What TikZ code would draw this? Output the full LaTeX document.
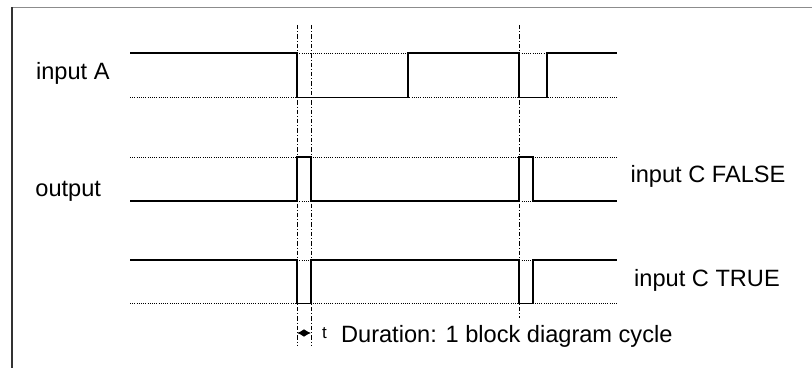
\documentclass[tikz,border=0pt]{standalone}
\usepackage{fontspec}
\setmainfont{Liberation Sans}
\usetikzlibrary{arrows.meta}

\begin{document}
\begin{tikzpicture}[x=0.5pt, y=-0.5pt, font=\fontsize{11.8}{14}\selectfont,
      lbl/.style={inner sep=0pt, anchor=base west},
      note/.style={inner sep=0pt, anchor=base},
      level/.style={line width=0.45pt, dash pattern=on 0.5pt off 0.6pt},
      wave/.style={line width=0.8pt},
      tick/.style={line width=0.5pt, dash pattern=on 2.2pt off 1pt on 0.5pt off 1pt},
      frame/.style={draw=black!45, line width=0.6pt}]

  \useasboundingbox (0,0) rectangle (812,368);
  \draw[frame] (812,7.5) -- (11.7,7.5);
  \draw[frame, draw=black!80, line width=0.8pt] (11.7,7.5) -- (11.7,368);

  % reference levels
  \foreach \lv in {53,97.7,157.3,201,260,303.3}
    \draw[level] (130,\lv) -- (617,\lv);

  % cycle markers
  \coordinate (m1t) at (297,25); \coordinate (m1b) at (297,345);
  \coordinate (m2t) at (311,25); \coordinate (m2b) at (311,345);
  \coordinate (m3t) at (519,25); \coordinate (m3b) at (519,318);
  \draw[tick] (m1t) -- (m1b);
  \draw[tick] (m2t) -- (m2b);
  \draw[tick] (m3t) -- (m3b);

  % signals
  \draw[wave] (130,53) -- (297,53) -- (297,97.7) -- (407.7,97.7) -- (407.7,53) -- (519,53)
              -- (519,97.7) -- (546.7,97.7) -- (546.7,53) -- (617,53);
  \draw[wave] (130,201) -- (297,201) -- (297,157.3) -- (311,157.3) -- (311,201) -- (519,201)
              -- (519,157.3) -- (533,157.3) -- (533,201) -- (617,201);
  \draw[wave] (130,260) -- (297,260) -- (297,303.3) -- (311,303.3) -- (311,260) -- (519,260)
              -- (519,303.3) -- (533,303.3) -- (533,260) -- (617,260);

  \node[lbl] (inA) at (35.7,80) {input A};
  \node[lbl] (out) at (35,197) {output};
  \node[note] (cfalse) at (708,183) {input C FALSE};
  \node[note] (ctrue) at (707,286) {input C TRUE};

  \coordinate (d1) at (297,333); \coordinate (d2) at (311,333);
  \draw[line width=0.7pt, {Latex[length=3.6pt,width=4pt]}-{Latex[length=3.6pt,width=4pt]}] (d1) -- (d2);
  \node[lbl, font=\fontsize{8.5}{10}\selectfont] (tlbl) at (321.7,338) {t};
  \node[lbl] (dur) at (340.7,342.7) {Duration: 1 block diagram cycle};
\end{tikzpicture}
\end{document}
